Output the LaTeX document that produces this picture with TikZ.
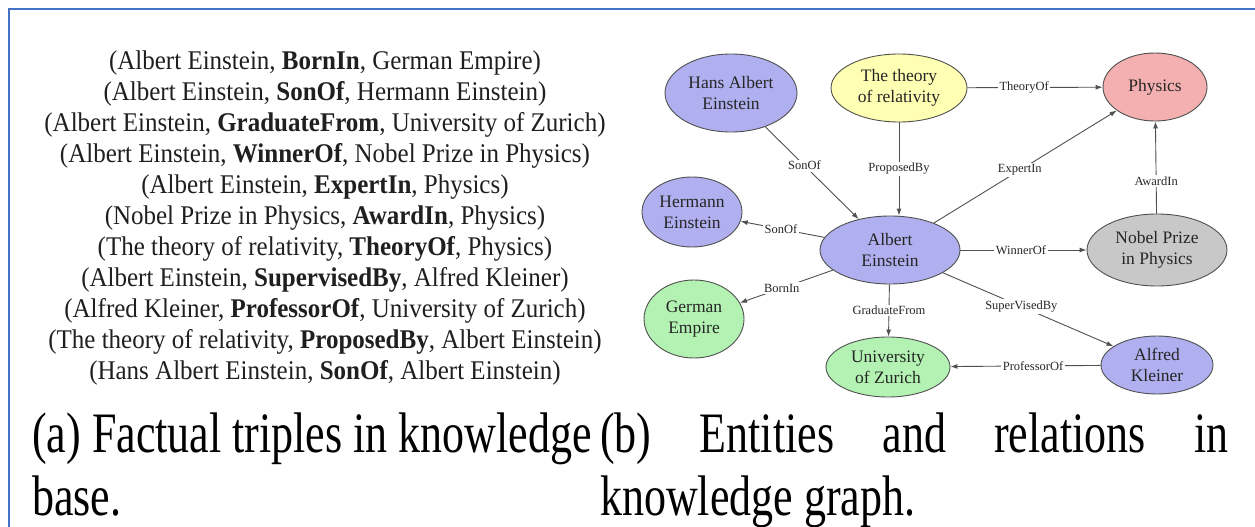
\documentclass[tikz,border=0pt]{standalone}
\usepackage{fontspec}
\setmainfont{Liberation Serif}
\usetikzlibrary{arrows.meta,shapes.geometric}
\definecolor{frameblue}{HTML}{4472C4}
\definecolor{lav}{HTML}{B0B0F0}
\definecolor{yel}{HTML}{FFFFB3}
\definecolor{pnk}{HTML}{F4B0B0}
\definecolor{grn}{HTML}{B3F2B3}
\definecolor{gry}{HTML}{C8C8C8}
\definecolor{edgegray}{HTML}{505050}
\begin{document}
\begin{tikzpicture}[x=1pt,y=-1pt,
 ent/.style={ellipse, draw=edgegray, line width=0.9pt, align=center, font=\fontsize{17.5}{21}\selectfont, inner sep=0pt, text=black!85},
 rel/.style={fill=white, inner sep=1.5pt, font=\fontsize{12.5}{14}\selectfont, text=black!85},
 link/.style={draw=edgegray, line width=0.9pt},
 arr/.style={link, -{Latex[length=7pt,width=5pt]}},
 triple/.style={font=\fontsize{25}{29}\selectfont, anchor=center, inner sep=0pt, text=black!88},
 capt/.style={font=\fontsize{44}{53}\selectfont, anchor=base west, inner sep=0pt}
]
\useasboundingbox (0,0) rectangle (1255,527);
\fill[white] (0,0) rectangle (1255,527);
\draw[frameblue, line width=2.5pt] (9,527) -- (9,9) -- (1255,9);

% left: triples
\node[triple] (t1) at (325,63) {\scalebox{1}[1.08]{(Albert Einstein, \textbf{BornIn}, German Empire)}};
\node[triple] (t2) at (325,94) {\scalebox{1}[1.08]{(Albert Einstein, \textbf{SonOf}, Hermann Einstein)}};
\node[triple] (t3) at (325,125) {\scalebox{1}[1.08]{(Albert Einstein, \textbf{GraduateFrom}, University of Zurich)}};
\node[triple] (t4) at (325,156) {\scalebox{1}[1.08]{(Albert Einstein, \textbf{WinnerOf}, Nobel Prize in Physics)}};
\node[triple] (t5) at (325,187) {\scalebox{1}[1.08]{(Albert Einstein, \textbf{ExpertIn}, Physics)}};
\node[triple] (t6) at (325,218) {\scalebox{1}[1.08]{(Nobel Prize in Physics, \textbf{AwardIn}, Physics)}};
\node[triple] (t7) at (325,249) {\scalebox{1}[1.08]{(The theory of relativity, \textbf{TheoryOf}, Physics)}};
\node[triple] (t8) at (325,280) {\scalebox{1}[1.08]{(Albert Einstein, \textbf{SupervisedBy}, Alfred Kleiner)}};
\node[triple] (t9) at (325,311) {\scalebox{1}[1.08]{(Alfred Kleiner, \textbf{ProfessorOf}, University of Zurich)}};
\node[triple] (t10) at (325,342) {\scalebox{1}[1.08]{(The theory of relativity, \textbf{ProposedBy}, Albert Einstein)}};
\node[triple] (t11) at (325,373) {\scalebox{1}[1.08]{(Hans Albert Einstein, \textbf{SonOf}, Albert Einstein)}};

% right: graph
\node[ent, fill=lav, minimum width=132, minimum height=78] (hans) at (731,93) {Hans Albert\\Einstein};
\node[ent, fill=yel, minimum width=136, minimum height=68] (theory) at (899,88) {The theory\\of relativity};
\node[ent, fill=pnk, minimum width=104, minimum height=68] (phys) at (1155,87) {Physics};
\node[ent, fill=lav, minimum width=100, minimum height=70] (herm) at (692,212) {Hermann\\Einstein};
\node[ent, fill=lav, minimum width=140, minimum height=68] (albert) at (890,250) {Albert\\Einstein};
\node[ent, fill=gry, minimum width=140, minimum height=72] (nobel) at (1157,250) {Nobel Prize\\in Physics};
\node[ent, fill=grn, minimum width=100, minimum height=78] (german) at (694,319) {German\\Empire};
\node[ent, fill=grn, minimum width=124, minimum height=60] (univ) at (888,367) {University\\of Zurich};
\node[ent, fill=lav, minimum width=112, minimum height=58] (kleiner) at (1157,365) {Alfred\\Kleiner};

\draw[arr] (theory) -- node[rel, pos=0.42]{TheoryOf} (phys);
\draw[arr] (albert) -- node[rel, pos=0.47]{ExpertIn} (phys);
\draw[arr] (nobel) -- node[rel, pos=0.35]{AwardIn} (phys);
\draw[arr] (hans) -- node[rel, pos=0.42]{SonOf} (albert);
\draw[arr] (theory.south) -- node[rel]{ProposedBy} (theory.south |- albert.north);
\draw[arr] (albert) -- node[rel, pos=0.52]{SonOf} (herm);
\draw[arr] (albert) -- node[rel, pos=0.55]{BornIn} (german);
\draw[arr] (albert) -- node[rel]{GraduateFrom} (univ);
\draw[arr] (albert) -- node[rel, pos=0.48]{WinnerOf} (nobel);
\draw[arr] (albert) -- node[rel, pos=0.46]{SuperVisedBy} (kleiner);
\draw[arr] (kleiner) -- node[rel, pos=0.45]{ProfessorOf} (univ);

% captions
\node[capt] (capa1) at (32,452) {\scalebox{1}[1.3]{(a) Factual triples in knowledge}};
\node[capt] (capa2) at (32,515) {\scalebox{1}[1.3]{base.}};
\node[capt] (capb1) at (600,452) {\scalebox{1}[1.3]{\makebox[628pt][s]{(b) Entities and relations in}}};
\node[capt] (capb2) at (600,515) {\scalebox{1}[1.3]{knowledge graph.}};
\end{tikzpicture}
\end{document}
